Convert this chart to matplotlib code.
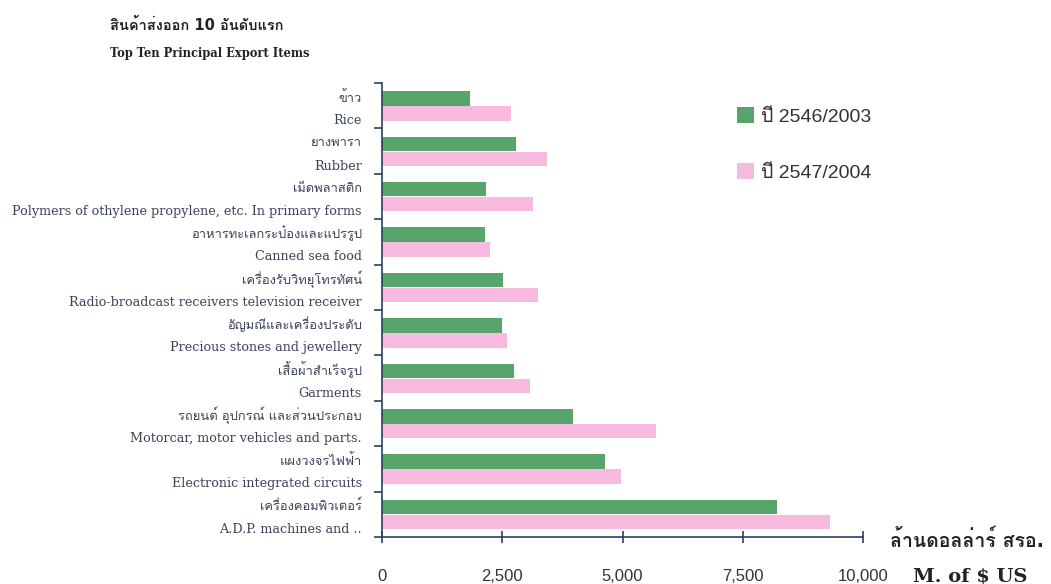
import matplotlib
matplotlib.use("Agg")
import matplotlib.pyplot as plt
import matplotlib.transforms as mtransforms
from matplotlib import font_manager, ft2font
from matplotlib.patches import Patch
import numpy as np

# ---------------- data ----------------
thai_labels = ["ข้าว", "ยางพารา", "เม็ดพลาสติก", "อาหารทะเลกระป๋องและแปรรูป",
               "เครื่องรับวิทยุโทรทัศน์", "อัญมณีและเครื่องประดับ", "เสื้อผ้าสำเร็จรูป",
               "รถยนต์ อุปกรณ์ และส่วนประกอบ", "แผงวงจรไฟฟ้า", "เครื่องคอมพิวเตอร์"]
eng_labels = ["Rice", "Rubber", "Polymers of othylene propylene, etc. In primary forms",
              "Canned sea food", "Radio-broadcast receivers television receiver",
              "Precious stones and jewellery", "Garments",
              "Motorcar, motor vehicles and parts.", "Electronic integrated circuits",
              "A.D.P. machines and .."]
values_2003 = [1830, 2785, 2155, 2150, 2510, 2500, 2745, 3965, 4630, 8220]
values_2004 = [2675, 3420, 3130, 2245, 3250, 2605, 3077, 5700, 4960, 9315]
series_names = ["ปี 2546/2003", "ปี 2547/2004"]
x_ticks = [0, 2500, 5000, 7500, 10000]
x_ticklabels = ["0", "2,500", "5,000", "7,500", "10,000"]
title_th = "สินค้าส่งออก 10 อันดับแรก"
title_en = "Top Ten Principal Export Items"
unit_th = "ล้านดอลล่าร์ สรอ."
unit_en = "M. of $ US"

# ---------------- find a font with Thai glyphs ----------------
thai_font = None
for fe in font_manager.fontManager.ttflist:
    if "CJK" in fe.name:
        continue
    try:
        cm = ft2font.FT2Font(fe.fname).get_charmap()
        if 0x0E2A in cm and 0x0E49 in cm:
            thai_font = fe.name
            break
    except Exception:
        pass

def fam(*names):
    lst = list(names)
    if thai_font:
        lst.append(thai_font)
    return lst

GREEN = "#57a56b"
PINK = "#f8bade"
AXC = "#2d3d63"
LBLC = "#3a4458"

fig = plt.figure(figsize=(10.51, 5.84), dpi=100)
ax = fig.add_axes([382/1051, 1-537/584, 481/1051, 454/584])

n = len(thai_labels)
y = np.arange(n)
h = 0.32
ax.barh(y - 0.16, values_2003, height=h, color=GREEN, label=series_names[0])
ax.barh(y + 0.17, values_2004, height=h, color=PINK, label=series_names[1])

ax.set_xlim(0, 10000)
ax.set_ylim(n - 0.5, -0.5)

for s in ["top", "right"]:
    ax.spines[s].set_visible(False)
for s in ["left", "bottom"]:
    ax.spines[s].set_color(AXC)
    ax.spines[s].set_linewidth(1.2)

ax.set_yticks(np.arange(n + 1) - 0.5)
ax.set_yticklabels([])
ax.tick_params(axis="y", direction="out", length=6, color=AXC, width=1.2)
ax.set_xticks(x_ticks)
ax.set_xticklabels(x_ticklabels, family=["Liberation Sans"], fontsize=12, color="#333333")
ax.tick_params(axis="x", direction="inout", length=8, color=AXC, width=1.2, pad=19)

trans = mtransforms.blended_transform_factory(ax.transAxes, ax.transData)
for i in range(n):
    ax.text(-0.042, i - 0.18, thai_labels[i], transform=trans, ha="right", va="center",
            fontsize=9.3, color=LBLC, family=fam("DejaVu Serif"))
    ax.text(-0.042, i + 0.33, eng_labels[i], transform=trans, ha="right", va="center",
            fontsize=9.2, color=LBLC, family=["DejaVu Serif"])

# titles
fig.text(110/1051, 1-25/584, title_th, fontsize=10.5, fontweight="bold", color="#222222",
         ha="left", va="center", family=fam("DejaVu Sans"))
fig.text(110/1051, 1-53/584, title_en, fontsize=8.3, fontweight="bold", color="#222222",
         ha="left", va="center", family=["DejaVu Serif"])

# unit labels
fig.text(967/1051, 1-540/584, unit_th, fontsize=14, fontweight="bold", color="#222222",
         ha="center", va="center", family=fam("DejaVu Sans"))
fig.text(970/1051, 1-577/584, unit_en, fontsize=14, fontweight="bold", color="#222222",
         ha="center", va="center", family=["DejaVu Serif"])

# legend
handles = [Patch(facecolor=GREEN, edgecolor="none"), Patch(facecolor=PINK, edgecolor="none")]
leg = fig.legend(handles, series_names, loc="upper left", bbox_to_anchor=(737/1051, 1-107/584),
                 frameon=False, handlelength=0.85, handleheight=0.9,
                 handletextpad=0.4, labelspacing=1.9, borderpad=0, borderaxespad=0,
                 prop={"family": fam("Liberation Sans"), "size": 14})
for t in leg.get_texts():
    t.set_color("#333333")

fig.savefig("out.png", dpi=100, facecolor="white")
